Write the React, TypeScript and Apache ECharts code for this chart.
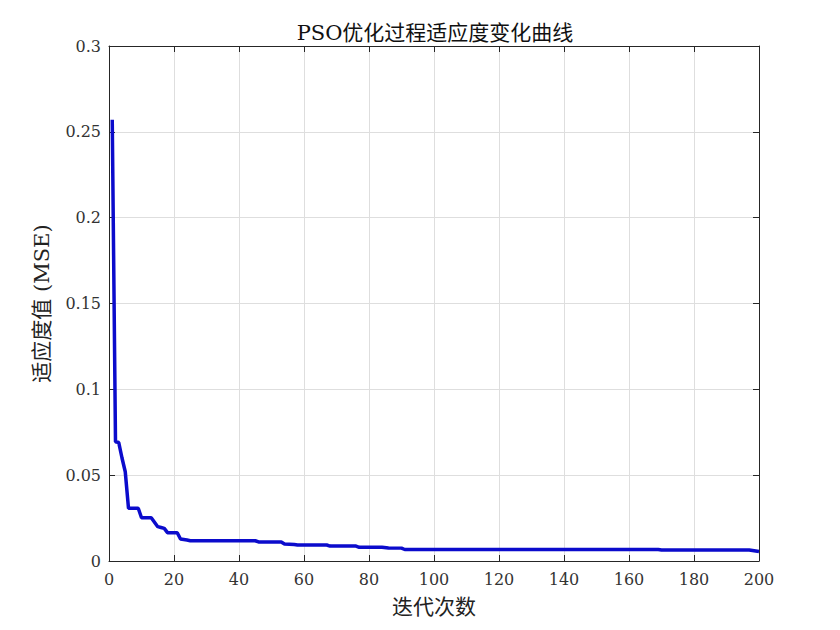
import React, { useEffect, useRef } from "react";
import * as echarts from "echarts";

const titleText = "PSO优化过程适应度变化曲线";
const xName = "迭代次数";
const yName = "适应度值 (MSE)";

// Breakpoints of the fitness curve (iteration, best MSE)
const iterations = [1, 2, 3, 4, 5, 6, 9, 10, 13, 15, 16, 17, 18, 21, 22, 24, 25, 45, 46, 53, 54, 57, 58, 67, 68, 76, 77, 84, 86, 90, 91, 169, 170, 197, 200];
const fitness = [0.257, 0.0695, 0.069, 0.06, 0.052, 0.0307, 0.0307, 0.0252, 0.0252, 0.02, 0.0195, 0.019, 0.0165, 0.0165, 0.0128, 0.0122, 0.0118, 0.0118, 0.0111, 0.0111, 0.0099, 0.0096, 0.0093, 0.0093, 0.0087, 0.0087, 0.008, 0.008, 0.0076, 0.0075, 0.0067, 0.0067, 0.0064, 0.0064, 0.0055];

const FONT = "'DejaVu Serif', 'Noto Sans CJK SC', serif";
const AX = "#262626";

export default function App() {
  const ref = useRef<HTMLDivElement>(null);
  useEffect(() => {
    if (!ref.current) return;
    const chart = echarts.init(ref.current, null, { renderer: "svg" });
    const data = iterations.map((it, i) => [it, fitness[i]]);
    const hiddenAxisCommon = {
      axisLine: { show: true, onZero: false, lineStyle: { color: AX, width: 1 } },
      axisTick: { show: true, inside: true, length: 6, lineStyle: { color: AX } },
      axisLabel: { show: false },
      splitLine: { show: false },
    };
    chart.setOption({
      animation: false,
      backgroundColor: "#ffffff",
      title: {
        text: titleText,
        left: 430,
        textAlign: "center",
        top: 17,
        textStyle: { fontFamily: FONT, fontSize: 21, fontWeight: "normal", color: "#111" },
      },
      grid: { left: 109, right: 81, top: 46, bottom: 69 },
      xAxis: [
        {
          type: "value",
          min: 0,
          max: 200,
          interval: 20,
          position: "bottom",
          name: xName,
          nameLocation: "middle",
          nameGap: 35,
          nameTextStyle: { fontFamily: FONT, fontSize: 21, color: "#222" },
          axisLine: { show: true, onZero: false, lineStyle: { color: AX, width: 1 } },
          axisTick: { show: true, inside: true, length: 6, lineStyle: { color: AX } },
          axisLabel: { fontFamily: FONT, fontSize: 16, color: "#333", margin: 10 },
          splitLine: { show: true, lineStyle: { color: "#dedede", width: 1 } },
        },
        { type: "value", min: 0, max: 200, interval: 20, position: "top", ...hiddenAxisCommon },
      ],
      yAxis: [
        {
          type: "value",
          min: 0,
          max: 0.3,
          interval: 0.05,
          position: "left",
          name: yName,
          nameLocation: "middle",
          nameGap: 57,
          nameRotate: 90,
          nameTextStyle: { fontFamily: FONT, fontSize: 21, color: "#222" },
          axisLine: { show: true, onZero: false, lineStyle: { color: AX, width: 1 } },
          axisTick: { show: true, inside: true, length: 6, lineStyle: { color: AX } },
          axisLabel: { fontFamily: FONT, fontSize: 16, color: "#333", margin: 8 },
          splitLine: { show: true, lineStyle: { color: "#dedede", width: 1 } },
        },
        { type: "value", min: 0, max: 0.3, interval: 0.05, position: "right", ...hiddenAxisCommon },
      ],
      series: [
        {
          type: "line",
          data,
          showSymbol: false,
          symbol: "none",
          lineStyle: { color: "#0b0bcc", width: 3.5 },
          itemStyle: { color: "#0b0bcc" },
        },
      ],
    });
    return () => chart.dispose();
  }, []);
  return <div ref={ref} style={{ width: 840, height: 630, position: "absolute", left: 0, top: 0 }} />;
}
